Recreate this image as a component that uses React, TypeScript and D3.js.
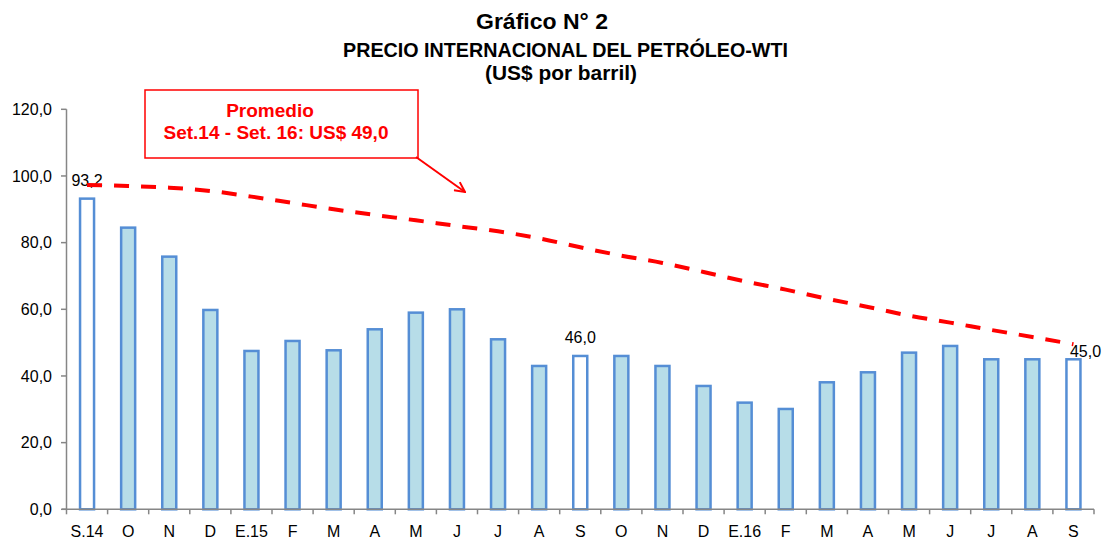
import React from "react";
import * as d3 from "d3";

const categories = ["S.14","O","N","D","E.15","F","M","A","M","J","J","A","S","O","N","D","E.16","F","M","A","M","J","J","A","S"];
const prices = [93.2,84.5,75.8,59.8,47.5,50.5,47.7,54.0,59.0,60.0,51.0,43.0,46.0,46.0,43.0,37.0,32.0,30.1,38.1,41.1,47.0,49.0,45.0,45.0,45.0];
const hollow = [0, 12, 24];
const labelled = [0, 12, 24];
const trend = [97.3,97.0,96.5,95.5,93.8,91.9,90.0,88.3,86.7,85.0,83.4,81.3,78.6,76.1,73.9,71.2,68.4,65.9,63.2,60.7,58.1,56.0,53.8,51.7,49.5];
const yTicks = [0,20,40,60,80,100,120];
const titleLines = ["Gráfico N° 2","PRECIO INTERNACIONAL DEL PETRÓLEO-WTI","(US$ por barril)"];
const noteLines = ["Promedio","Set.14 - Set. 16: US$ 49,0"];

const fmt = (v: number) => v.toFixed(1).replace(".", ",");
const FONT = "'Liberation Sans', Arial, sans-serif";

export default function App() {
  const x = d3.scaleBand<number>().domain(categories.map((_, i) => i)).range([66.5, 1094]).padding(0);
  const y = d3.scaleLinear().domain([0, 120]).range([509.3, 109.3]);
  const bw = x.bandwidth();
  const barW = 14;
  const cx = (i: number) => (x(i) as number) + bw / 2;
  const line = d3.line<number>().x((_, i) => cx(i)).y((d) => y(d)).curve(d3.curveMonotoneX);
  const boundaries = d3.range(categories.length + 1).map((i) => 66.5 + i * bw);

  return (
    <svg width={1112} height={542} style={{ position: "absolute", left: 0, top: 0, background: "#fff" }} fontFamily={FONT}>
      <defs>
        <marker id="arr" viewBox="0 0 12 12" refX="11" refY="6" markerWidth="12" markerHeight="12" markerUnits="userSpaceOnUse" orient="auto">
          <path d="M1,1 L11,6 L1,11" fill="none" stroke="#ff0000" strokeWidth="2" />
        </marker>
      </defs>
      {/* titles */}
      <text x={542} y={29} textAnchor="middle" fontWeight="bold" fontSize={22} textLength={132} lengthAdjust="spacingAndGlyphs">{titleLines[0]}</text>
      <text x={565.5} y={57} textAnchor="middle" fontWeight="bold" fontSize={19.5} textLength={445} lengthAdjust="spacingAndGlyphs">{titleLines[1]}</text>
      <text x={561} y={80} textAnchor="middle" fontWeight="bold" fontSize={20} textLength={152} lengthAdjust="spacingAndGlyphs">{titleLines[2]}</text>

      {/* y axis */}
      <line x1={66.5} x2={66.5} y1={y(0)} y2={y(120)} stroke="#868686" strokeWidth={1.5} />
      {yTicks.map((t) => (
        <g key={t}>
          <line x1={61} x2={66.5} y1={y(t)} y2={y(t)} stroke="#868686" strokeWidth={1.5} />
          <text x={52} y={y(t)} dy="0.36em" textAnchor="end" fontSize={16}>{fmt(t)}</text>
        </g>
      ))}

      {/* bars */}
      {prices.map((v, i) => (
        <rect key={i} x={cx(i) - barW / 2} y={y(v)} width={barW} height={y(0) - y(v)}
          fill={hollow.includes(i) ? "#ffffff" : "#b7dde8"} stroke="#558ed5" strokeWidth={2.5} />
      ))}

      {/* x axis */}
      <line x1={62} x2={1094} y1={y(0)} y2={y(0)} stroke="#868686" strokeWidth={1.5} />
      {boundaries.map((b, i) => (
        <line key={i} x1={b} x2={b} y1={y(0)} y2={y(0) + 5} stroke="#868686" strokeWidth={1.5} />
      ))}
      {categories.map((c, i) => (
        <text key={i} x={cx(i)} y={537} textAnchor="middle" fontSize={16}>{c}</text>
      ))}

      {/* data labels */}
      {labelled.map((i, k) => k < labelled.length - 1 ? (
        <text key={i} x={cx(i)} y={y(prices[i]) - 13} textAnchor="middle" fontSize={16}>{fmt(prices[i])}</text>
      ) : (
        <text key={i} x={cx(i) - 3.5} y={y(prices[i]) - 2} textAnchor="start" fontSize={16}>{fmt(prices[i])}</text>
      ))}

      {/* trend */}
      <path d={line(trend) || ""} fill="none" stroke="#ff0000" strokeWidth={4} strokeDasharray="15 12" strokeLinecap="butt" />

      {/* annotation */}
      <rect x={145} y={90} width={273} height={68} fill="#ffffff" stroke="#ff0000" strokeWidth={1.5} />
      <text x={270} y={117} textAnchor="middle" fontWeight="bold" fontSize={19} fill="#ff0000">{noteLines[0]}</text>
      <text x={276} y={139} textAnchor="middle" fontWeight="bold" fontSize={19} fill="#ff0000">{noteLines[1]}</text>
      <line x1={416} x2={465} y1={157} y2={192} stroke="#ff0000" strokeWidth={2} markerEnd="url(#arr)" />
    </svg>
  );
}
